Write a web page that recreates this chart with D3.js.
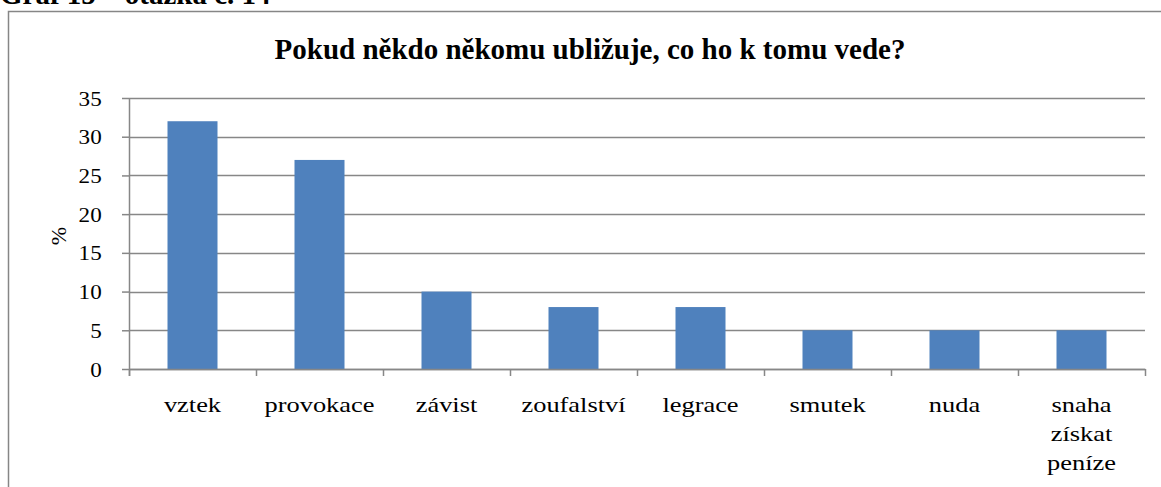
<!DOCTYPE html>
<html>
<head>
<meta charset="utf-8">
<script src="https://cdn.jsdelivr.net/npm/d3@7"></script>
<style>
  body { margin: 0; background: #fff; }
  svg text { font-family: "Liberation Serif", "Times New Roman", serif; fill: #000; }
</style>
</head>
<body>
<div id="chart"></div>
<script>
// data
var categories = ["vztek", "provokace", "závist", "zoufalství", "legrace", "smutek", "nuda", "snaha získat peníze"]
var values = [32, 27, 10, 8, 8, 5, 5, 5]
var yTicks = [0, 5, 10, 15, 20, 25, 30, 35]
var title = "Pokud někdo někomu ubližuje, co ho k tomu vede?"
var caption = "Graf 15 – otázka č. 14"

var W = 1161, H = 487
var margin = { top: 98, right: 16, bottom: 118, left: 129 }
var width = W - margin.left - margin.right,
  height = H - margin.top - margin.bottom

var svg = d3.select("#chart").append("svg")
  .attr("width", W)
  .attr("height", H)

// caption above the frame, cut off at the top
svg.append("text")
  .attr("x", 0)
  .attr("y", 4)
  .style("font-size", "29px")
  .style("font-weight", "bold")
  .text(caption)

// chart frame
svg.append("rect")
  .attr("x", 8.5)
  .attr("y", 11.5)
  .attr("width", W + 20)
  .attr("height", H + 20)
  .attr("fill", "none")
  .attr("stroke", "#868686")
  .attr("stroke-width", 1.5)

svg.append("text")
  .attr("x", 590)
  .attr("y", 59)
  .attr("text-anchor", "middle")
  .style("font-size", "29px")
  .style("font-weight", "bold")
  .text(title)

var g = svg.append("g")
  .attr("transform", "translate(" + margin.left + "," + margin.top + ")")

var xPositionScale = d3.scaleBand().domain(categories).range([0, width]).paddingInner(0).paddingOuter(0)
var yPositionScale = d3.scaleLinear().domain([0, 35]).range([height, 0])

// gridlines
g.selectAll(".grid")
  .data(yTicks)
  .enter().append("line")
  .attr("x1", 0)
  .attr("x2", width)
  .attr("y1", function(d) { return Math.round(yPositionScale(d)) + 0.5 })
  .attr("y2", function(d) { return Math.round(yPositionScale(d)) + 0.5 })
  .attr("stroke", "#878787")
  .attr("stroke-width", 1.5)

// bars
var barW = 50
g.selectAll(".bar")
  .data(values)
  .enter().append("rect")
  .attr("class", "bar")
  .attr("x", function(d, i) { return xPositionScale(categories[i]) + xPositionScale.bandwidth() / 2 - barW / 2 })
  .attr("y", function(d) { return yPositionScale(d) })
  .attr("width", barW)
  .attr("height", function(d) { return height - yPositionScale(d) })
  .attr("fill", "#4F81BD")

// y axis
var yAxis = d3.axisLeft(yPositionScale).tickValues(yTicks).tickSize(7).tickPadding(19)
var yG = g.append("g").call(yAxis)
yG.select(".domain").attr("stroke", "#878787").attr("stroke-width", 1.5).attr("d", "M0.5,0V" + (height + 7))
yG.selectAll(".tick line").attr("stroke", "#878787").attr("stroke-width", 1.5)
yG.selectAll(".tick text")
  .style("font-size", "22px")
  .style("font-family", "'Liberation Serif', serif")
  .attr("transform", "scale(1.05,1)")
  .attr("fill", "#000")

// x axis
var xAxis = d3.axisBottom(xPositionScale).tickSize(0).tickPadding(0)
var xG = g.append("g")
  .attr("transform", "translate(0," + height + ")")
  .call(xAxis)
xG.select(".domain").attr("stroke", "#878787").attr("stroke-width", 1.5)
xG.selectAll(".tick text").remove()

// category separators
var seps = categories.map(function(c) { return xPositionScale(c) }).concat([width])
xG.selectAll(".sep")
  .data(seps)
  .enter().append("line")
  .attr("x1", function(d) { return Math.round(d) + 0.5 })
  .attr("x2", function(d) { return Math.round(d) + 0.5 })
  .attr("y1", 0)
  .attr("y2", 7)
  .attr("stroke", "#878787")
  .attr("stroke-width", 1.5)

// category labels, long ones wrapped; the labels in the picture are a bit wide
var wraps = { "snaha získat peníze": ["snaha", "získat", "peníze"] }
xG.selectAll(".lab")
  .data(categories)
  .enter().append("text")
  .attr("text-anchor", "middle")
  .style("font-size", "22px")
  .attr("transform", function(d) { return "translate(" + (xPositionScale(d) + xPositionScale.bandwidth() / 2) + ",43) scale(1.2,1)" })
  .each(function(d) {
    var lines = wraps[d] || [d]
    var t = d3.select(this)
    lines.forEach(function(l, i) {
      t.append("tspan").attr("x", 0).attr("y", i * 29).text(l)
    })
  })

// y title
svg.append("text")
  .attr("transform", "translate(66,236) rotate(-90)")
  .attr("text-anchor", "middle")
  .style("font-size", "22px")
  .text("%")
</script>
</body>
</html>
